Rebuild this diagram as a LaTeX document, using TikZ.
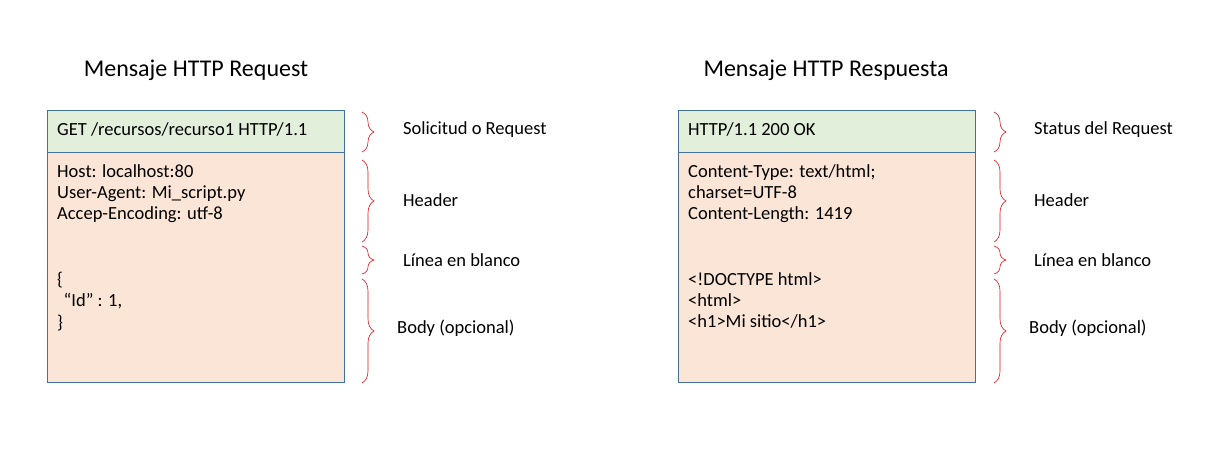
\documentclass[tikz,border=0pt]{standalone}
\usepackage{fontspec}
\setmainfont{Carlito}
\usepackage{xcolor}
\usepackage{tikz}
\usetikzlibrary{decorations.pathreplacing,positioning}
\definecolor{msgBorder}{HTML}{41719C}
\definecolor{msgGreen}{HTML}{E2EFDA}
\definecolor{msgPeach}{HTML}{FBE5D6}
\definecolor{brRed}{HTML}{E0101A}
\tikzset{
  msgBox/.style={draw=msgBorder,line width=.8pt,anchor=north west,inner sep=0pt,
        minimum width=297pt},
  msgStart/.style={msgBox,fill=msgGreen,minimum height=42pt},
  msgRest/.style={msgBox,fill=msgPeach,minimum height=230pt},
  msgText/.style={anchor=north west,inner sep=0pt,align=left,
        font=\fontsize{18.5}{21.3}\selectfont},
  msgTitle/.style={font=\fontsize{24}{28}\selectfont},
  partBrace/.style={draw=brRed,line width=.6pt,decorate,
        decoration={brace,amplitude=12pt}},
  partLabel/.style={anchor=west,inner sep=0pt,font=\fontsize{18.5}{22}\selectfont},
}
\begin{document}
\begin{tikzpicture}[x=1pt,y=-1pt]
\useasboundingbox (0,0) rectangle (1205,460);
% request
\node[msgTitle] (tq) at (196,70) {Mensaje HTTP Request};
\node[msgStart] (q1) at (47,110) {};
\node[msgRest]  (q2) at (47,152) {};
\node[msgText]  (qs) at (57,122) {GET /recursos/recurso1 HTTP/1.1};
\node[msgText]  (qh) at (57,164) {Host: localhost:80\\User-Agent: Mi\_script.py\\Accep-Encoding: utf-8};
\node[msgText]  (qb) at (57,272) {\{\\\hspace{0.35em}“Id\symbol{34} : 1,\\\}};
\coordinate (qa1) at (362,112); \coordinate (qa2) at (362,152);
\coordinate (qb1) at (362,160); \coordinate (qb2) at (362,242);
\coordinate (qc1) at (362,246); \coordinate (qc2) at (362,274);
\coordinate (qd1) at (362,279); \coordinate (qd2) at (362,383);
\draw[partBrace] (qa1) -- (qa2);
\draw[partBrace] (qb1) -- (qb2);
\draw[partBrace] (qc1) -- (qc2);
\draw[partBrace] (qd1) -- (qd2);
\node[partLabel] (ql1) at (403,130) {Solicitud o Request};
\node[partLabel] (ql2) at (403,200) {Header};
\node[partLabel] (ql3) at (403,260) {Línea en blanco};
\node[partLabel] (ql4) at (397,328) {Body (opcional)};
% response
\node[msgTitle] (tr) at (826,70) {Mensaje HTTP Respuesta};
\node[msgStart] (r1) at (678,110) {};
\node[msgRest]  (r2) at (678,152) {};
\node[msgText]  (rs) at (688,122) {HTTP/1.1 200 OK};
\node[msgText]  (rh) at (688,164) {Content-Type: text/html;\\charset=UTF-8\\Content-Length: 1419};
\node[msgText]  (rb) at (688,272) {<!DOCTYPE html>\\<html>\\<h1>Mi sitio</h1>};
\coordinate (ra1) at (994,112); \coordinate (ra2) at (994,152);
\coordinate (rb1) at (994,160); \coordinate (rb2) at (994,242);
\coordinate (rc1) at (994,246); \coordinate (rc2) at (994,274);
\coordinate (rd1) at (994,279); \coordinate (rd2) at (994,383);
\draw[partBrace] (ra1) -- (ra2);
\draw[partBrace] (rb1) -- (rb2);
\draw[partBrace] (rc1) -- (rc2);
\draw[partBrace] (rd1) -- (rd2);
\node[partLabel] (rl1) at (1034,130) {Status del Request};
\node[partLabel] (rl2) at (1034,200) {Header};
\node[partLabel] (rl3) at (1034,260) {Línea en blanco};
\node[partLabel] (rl4) at (1029,328) {Body (opcional)};
\end{tikzpicture}
\end{document}
